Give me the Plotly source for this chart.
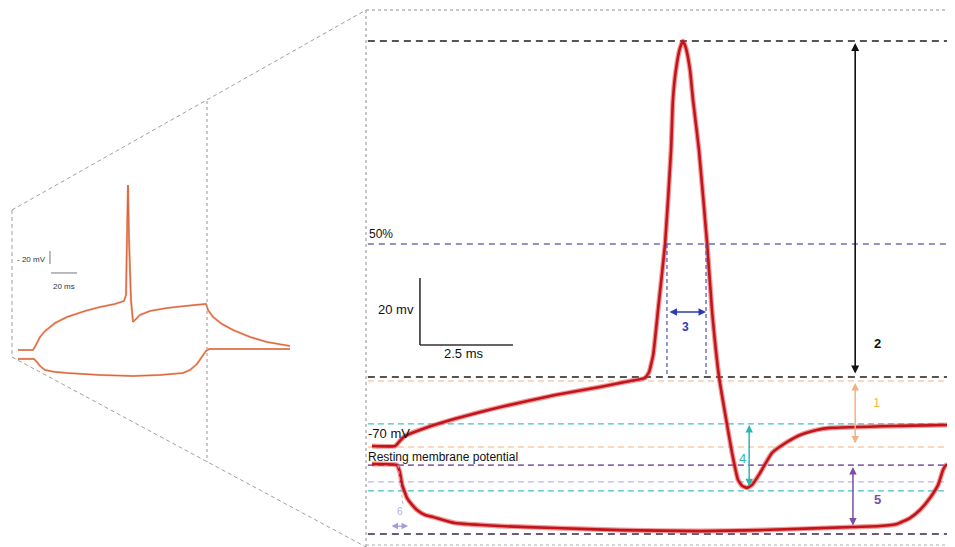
import plotly.graph_objects as go

# ---------------- data: right panel (time in ms, membrane potential in mV) ----------------
depol_t = [0.16, 0.78, 0.91, 1.05, 1.45, 2.39, 3.60, 5.08, 6.29, 7.10, 7.50, 7.61, 7.72, 7.85,
           8.04, 8.20, 8.25, 8.33, 8.44, 8.52, 8.60, 8.71, 8.79, 8.95, 9.17, 9.30, 9.49, 9.65,
           9.84, 10.00, 10.11, 10.24, 10.38, 10.59, 10.91, 11.32, 11.67, 12.12, 12.47, 14.35, 15.75]
depol_v = [-70, -70, -68.5, -67.0, -65.2, -61.9, -58.4, -54.8, -52.4, -50.6, -49.7, -47.9, -42.8, -29.4,
           -9.7, 18.4, 33.3, 42.2, 48.8, 50.9, 48.8, 42.2, 33.3, 18.4, -9.7, -29.4, -49.4, -60.1,
           -72.1, -80.1, -81.9, -82.5, -81.6, -78.1, -72.1, -68.8, -66.7, -65.2, -64.6, -64.0, -63.7]

hyper_t = [0.16, 0.83, 0.91, 0.97, 1.05, 1.10, 1.24, 1.37, 1.59, 1.80, 2.39, 3.60, 5.08, 6.83,
           8.98, 10.59, 13.09, 13.82, 14.27, 14.62, 14.89, 15.16, 15.38, 15.51, 15.59, 15.75]
hyper_v = [-75.4, -75.7, -77.8, -81.6, -84.0, -85.5, -87.6, -89.1, -90.6, -91.2, -93.0, -93.9, -94.5, -95.1,
           -95.4, -95.1, -94.2, -93.9, -93.3, -91.5, -89.1, -85.5, -81.6, -77.2, -75.7, -75.7]

# reference levels (mV)
level_names = ["peak", "50%", "threshold", "AHP top", "AHP ref", "rest", "hyper rest", "hyper ref", "trough", "hyper min"]
level_v = [50.9, -9.7, -49.4, -50.6, -63.4, -70.3, -75.7, -80.7, -83.4, -96.3]

# ---------------- data: left panel overview (time in ms, mV) ----------------
ov_up_t = [0, 11.5, 13.8, 16.9, 20.8, 28.5, 37.7, 51.5, 63.1, 74.6, 81.5, 83.1, 83.8, 84.6, 85.4,
           86.9, 88.5, 90, 93.8, 101.5, 114.6, 128.5, 144.6, 146.2, 150, 156.9, 165.4, 178.5, 191.5, 209.2]
ov_up_v = [-70, -70, -62.3, -50, -40.8, -28.5, -19.2, -10, -3.8, 0.8, 5.4, 14.6, 99.2, 183.8, 99.2,
           6.9, -26.9, -23.8, -16.2, -10, -5.4, -2.3, 0.8, -8.5, -19.2, -30, -39.2, -50, -57.7, -63.8]
ov_lo_t = [0, 12.3, 14.6, 16.9, 20.8, 28.5, 37.7, 63.1, 88.5, 109.2, 126.9, 132.3, 137.7, 141.5,
           144.6, 146.9, 163.1, 209.2]
ov_lo_v = [-83.8, -83.8, -88.5, -94.6, -100.8, -103.8, -105.4, -108.5, -110, -108.5, -105.4, -100.8,
           -91.5, -80.8, -71.5, -68.5, -68.5, -68.5]

# page has an 8px body margin: figure occupies page pixels 8..955 x 8..547
OFF = 8
W, H = 955 - OFF, 547 - OFF
FONT = "Liberation Sans, Arial, sans-serif"

fig = go.Figure()

# overview traces (secondary axes)
for tt, vv in [(ov_up_t, ov_up_v), (ov_lo_t, ov_lo_v)]:
    fig.add_trace(go.Scatter(x=tt, y=vv, mode="lines", xaxis="x2", yaxis="y2",
                             line=dict(color="#f0a07e", width=2.2), hoverinfo="skip", showlegend=False))
    fig.add_trace(go.Scatter(x=tt, y=vv, mode="lines", xaxis="x2", yaxis="y2",
                             line=dict(color="#d9623c", width=1.0), hoverinfo="skip", showlegend=False))

# main traces (light halo + core)
for tt, vv in [(depol_t, depol_v), (hyper_t, hyper_v)]:
    fig.add_trace(go.Scatter(x=tt, y=vv, mode="lines",
                             line=dict(color="rgba(232,70,70,0.55)", width=5, shape="spline", smoothing=0.4),
                             hoverinfo="skip", showlegend=False))
    fig.add_trace(go.Scatter(x=tt, y=vv, mode="lines",
                             line=dict(color="#c0151b", width=2.6, shape="spline", smoothing=0.4),
                             hoverinfo="skip", showlegend=False))

shapes = []

def P(px, py):
    return (px - OFF) / W, 1 - (py - OFF) / H

def pline(p0, p1, color, width, dash):
    (x0, y0), (x1, y1) = P(*p0), P(*p1)
    shapes.append(dict(type="line", xref="paper", yref="paper", x0=x0, y0=y0, x1=x1, y1=y1,
                       line=dict(color=color, width=width, dash=dash)))

# panel frame + zoom guides (decoration)
pline((366, 10), (953, 10), "#b5b5b5", 1.5, "dot")
pline((366, 10), (366, 547), "#b5b5b5", 1.5, "dot")
pline((953, 10), (953, 547), "#b5b5b5", 1.5, "dot")
pline((366, 545), (953, 545), "#c8c8c8", 1.5, "dot")
pline((12, 210), (366, 10), "#a0a0a0", 1, "4px,3px")
pline((12, 357), (366, 547), "#a0a0a0", 1, "4px,3px")
pline((12, 210), (12, 357), "#a0a0a0", 1, "4px,3px")
pline((207, 101), (207, 462), "#a8a8a8", 1.2, "dot")

# level lines
level_color = ["#555555", "#6f6fb3", "#555555", "#f4b183", "#46bfc0", "#f4b183", "#8a68ad", "#c4b5e0", "#46bfc0", "#6b5b7b"]
level_width = [2, 1.5, 2, 1.2, 1.3, 1.2, 1.6, 1.2, 1.3, 2]
level_dash = ["7px,5px", "6px,5px", "7px,5px", "6px,4px", "6px,4px", "6px,4px", "6px,4px", "6px,4px", "6px,4px", "7px,5px"]
for v, c, w, d in zip(level_v, level_color, level_width, level_dash):
    shapes.append(dict(type="line", xref="x", yref="y", x0=0.05, x1=15.78, y0=v, y1=v, layer="below",
                       line=dict(color=c, width=w, dash=d)))

# half-width verticals
for tx in [8.09, 9.14]:
    shapes.append(dict(type="line", xref="x", yref="y", x0=tx, x1=tx, y0=level_v[1], y1=level_v[2],
                       line=dict(color="#5055b0", width=1.2, dash="4px,3px")))
# small lavender guide near 6
shapes.append(dict(type="line", xref="x", yref="y", x0=0.86, x1=1.0, y0=-75.7, y1=-88.0,
                   line=dict(color="#b9addb", width=1, dash="3px,3px")))

# scale bars: main (20 mV, 2.5 ms)
shapes.append(dict(type="line", xref="x", yref="y", x0=1.45, x1=1.45, y0=-39.85, y1=-19.85,
                   line=dict(color="#333333", width=1.6)))
shapes.append(dict(type="line", xref="x", yref="y", x0=1.45, x1=3.95, y0=-39.85, y1=-39.85,
                   line=dict(color="#333333", width=1.6)))
# scale bars: overview (20 mV, 20 ms)
shapes.append(dict(type="line", xref="x2", yref="y2", x0=24.6, x1=24.6, y0=62.3, y1=82.3,
                   line=dict(color="#777777", width=1)))
shapes.append(dict(type="line", xref="x2", yref="y2", x0=25.4, x1=45.4, y0=48.5, y1=48.5,
                   line=dict(color="#777777", width=1)))

ann = []

def arrow(x0, y0, x1, y1, color, width=1.5):
    ann.append(dict(x=x1, y=y1, ax=x0, ay=y0, xref="x", yref="y", axref="x", ayref="y",
                    text="", showarrow=True, arrowhead=2, startarrowhead=2, arrowside="end+start",
                    arrowsize=1, startarrowsize=1, arrowwidth=width, arrowcolor=color,
                    standoff=0, startstandoff=0))

arrow(13.15, -48.8, 13.15, 50.3, "#111111", 1.6)   # 2
arrow(13.15, -69.7, 13.15, -51.2, "#f4b183")         # 1
arrow(10.30, -82.5, 10.30, -63.7, "#2fb5b0")         # 4
arrow(13.09, -94.2, 13.09, -76.3, "#7b4fa5")         # 5
arrow(8.12, -30.0, 9.14, -30.0, "#2b3bb5")           # 3
arrow(0.645, -93.9, 1.13, -93.9, "#a99bd6", 1.3)     # 6

def label(x, y, text, color="#111111", size=13, xanchor="center", bold=False, ref=("x", "y")):
    t = f"<b>{text}</b>" if bold else text
    ann.append(dict(x=x, y=y, xref=ref[0], yref=ref[1], text=t, showarrow=False, xanchor=xanchor,
                    yanchor="middle", font=dict(family=FONT, size=size, color=color)))

label(13.74, -39.3, "2", bold=True)
label(13.71, -56.9, "1", "#f5b942", 13)
label(10.11, -73.6, "4", "#2fb5b0", 13)
label(13.74, -86.1, "5", "#7b4fa5", 13, bold=True)
label(8.60, -34.5, "3", "#2b3bb5", 12, bold=True)
label(0.91, -89.7, "6", "#b9addb", 10)
label(0.03, -6.7, "50%", size=12, xanchor="left")
label(0.0, -66.4, "-70 mV", size=13, xanchor="left")
label(0.0, -73.3, "Resting membrane potential", size=12, xanchor="left")
label(1.34, -29.4, "20 mv", size=13, xanchor="right")
label(2.63, -42.5, "2.5 ms", size=13)
label(23.0, 70.0, "- 20 mV", "#333333", 8, xanchor="right", ref=("x2", "y2"))
label(35.4, 27.0, "20 ms", "#333333", 8, ref=("x2", "y2"))

fig.update_layout(
    width=W, height=H, margin=dict(l=0, r=0, t=0, b=0),
    paper_bgcolor="white", plot_bgcolor="rgba(0,0,0,0)",
    showlegend=False, shapes=shapes, annotations=ann,
    xaxis=dict(domain=[0, 1], range=[-9.624, 15.833], visible=False, fixedrange=True),
    yaxis=dict(domain=[0, 1], range=[-100.15, 60.746], visible=False, fixedrange=True),
    xaxis2=dict(domain=[0, 1], range=[-7.692, 720.77], visible=False, overlaying="x", anchor="y2", fixedrange=True),
    yaxis2=dict(domain=[0, 1], range=[-373.08, 456.15], visible=False, overlaying="y", anchor="x2", fixedrange=True),
)

fig.write_html("out.html")
